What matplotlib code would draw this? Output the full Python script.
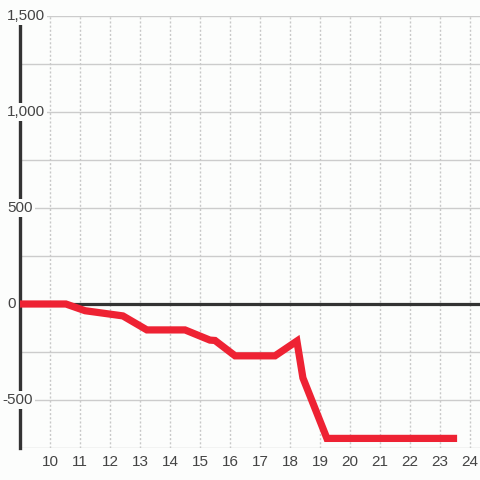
import matplotlib
matplotlib.use("Agg")
import matplotlib.pyplot as plt
import matplotlib.transforms as mtransforms

plt.rcParams['font.family'] = ['Liberation Sans', 'DejaVu Sans']

# data
x_vals = [9.0, 10.53, 11.17, 11.5, 12.43, 13.23, 14.5, 15.33, 15.5, 16.17, 17.5, 18.23, 18.43, 19.23, 23.57]
y_vals = [0, 0, -35, -42, -62, -135, -135, -188, -190, -270, -270, -193, -385, -700, -700]
x_ticks = list(range(10, 25))
y_label_vals = [1500, 1000, 500, 0, -500]
y_grid_vals = [1500, 1250, 1000, 750, 500, 250, 0, -250, -500, -750]

bg = '#fcfdfc'
fig = plt.figure(figsize=(4.8, 4.8), dpi=100, facecolor=bg)
ax = fig.add_axes([20/480, 1 - 448/480, 460/480, 432/480])
ax.set_facecolor(bg)
ax.set_xlim(9.0, 24.333)
ax.set_ylim(-750, 1500)

for s in ['top', 'right', 'bottom']:
    ax.spines[s].set_visible(False)
ax.spines['left'].set_color('#333333')
ax.spines['left'].set_linewidth(2.4)
ax.spines['left'].set_zorder(3)

# grid
for gy in y_grid_vals:
    if gy != 0:
        ax.axhline(gy, color='#cccccc', lw=1.0, zorder=1)
for gx in x_ticks:
    ax.axvline(gx, color='#c8c8c8', lw=1.0, ls=(0, (1.5, 1.5)), zorder=1)
ax.axhline(0, color='#333333', lw=2.3, zorder=2)

ax.plot(x_vals, y_vals, color='#ee2233', lw=5.2, solid_joinstyle='miter', solid_capstyle='butt', zorder=4)

ax.set_xticks(x_ticks)
ax.set_xticklabels([str(t) for t in x_ticks])
ax.tick_params(axis='x', length=0, pad=5, labelsize=11, labelcolor='#444444')
ax.set_yticks([])

trans = mtransforms.blended_transform_factory(fig.transFigure, ax.transData)
for v in y_label_vals:
    lab = f"{v:,}"
    xpx = 2 if v < 0 else 7
    ax.text(xpx/480, v, lab, transform=trans, ha='left', va='center',
            fontsize=11, color='#444444', zorder=10, clip_on=False,
            bbox=dict(boxstyle='square,pad=0.15', facecolor=bg, edgecolor='none'))

fig.savefig('out.png', dpi=100, facecolor=bg)
